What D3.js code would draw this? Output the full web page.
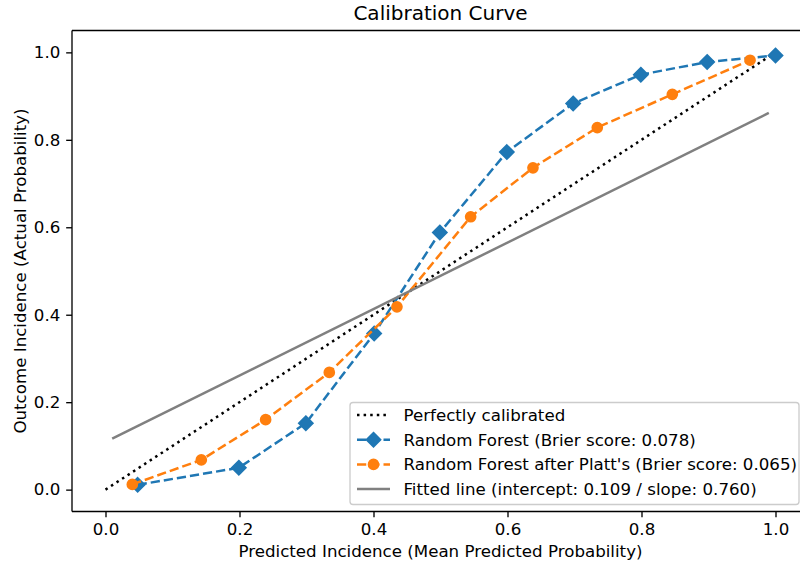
<!DOCTYPE html>
<html>
<head>
<meta charset="utf-8">
<script src="https://cdn.jsdelivr.net/npm/d3@7"></script>
<style>
  body { margin: 0; background: #fff; }
  svg { display: block; font-family: "DejaVu Sans", sans-serif; }
</style>
</head>
<body>
<svg id="chart" width="800" height="568"></svg>
<script>
// Calibration data: mean predicted probability vs. observed fraction of positives
const rfPredicted   = [0.048, 0.199, 0.299, 0.401, 0.499, 0.599, 0.698, 0.799, 0.898, 1.000];
const rfObserved    = [0.011, 0.050, 0.152, 0.357, 0.588, 0.772, 0.883, 0.949, 0.978, 0.993];
const plattPredicted = [0.040, 0.143, 0.239, 0.334, 0.435, 0.545, 0.638, 0.734, 0.846, 0.962];
const plattObserved  = [0.012, 0.068, 0.160, 0.268, 0.418, 0.624, 0.736, 0.828, 0.904, 0.982];
const perfectLine = [[0, 0], [1, 1]];
const fitIntercept = 0.109;
const fitSlope = 0.760;
const fitRange = [0.01, 0.99];
const xTicks = [0.0, 0.2, 0.4, 0.6, 0.8, 1.0];
const yTicks = [0.0, 0.2, 0.4, 0.6, 0.8, 1.0];
const legendLabels = [
  "Perfectly calibrated",
  "Random Forest (Brier score: 0.078)",
  "Random Forest after Platt's (Brier score: 0.065)",
  "Fitted line (intercept: 0.109 / slope: 0.760)"
];

(function () {
const svg = d3.select("#chart");
const plotLeft = 72, plotRight = 809, plotTop = 30.5, plotBottom = 511.5;

const x = d3.scaleLinear().domain([-0.05, 1.05]).range([plotLeft, plotRight]);
const y = d3.scaleLinear().domain([-0.05, 1.05]).range([plotBottom, plotTop]);

const blue = "#1f77b4", orange = "#ff7f0e", grey = "#808080";
const lw = 2.5;
const dotted = "2.5,4.1";
const dashed = "9.25,4";
const fontSize = "16.67px";
const tick = 5.83;

const line = d3.line().x(d => x(d[0])).y(d => y(d[1]));
const diamond = s => `M0,${-s}L${s},0L0,${s}L${-s},0Z`;
const diamondHalf = 7.07, circleR = 5, edge = 1.67;

const plot = svg.append("g");

// Reference diagonal
plot.append("path")
  .attr("d", line(perfectLine))
  .attr("fill", "none").attr("stroke", "#000").attr("stroke-width", lw)
  .attr("stroke-dasharray", dotted);

// Random Forest curve
const rfPts = rfPredicted.map((p, i) => [p, rfObserved[i]]);
plot.append("path")
  .attr("d", line(rfPts))
  .attr("fill", "none").attr("stroke", blue).attr("stroke-width", lw)
  .attr("stroke-dasharray", dashed);
plot.selectAll(".rf").data(rfPts).enter().append("path")
  .attr("d", diamond(diamondHalf))
  .attr("transform", d => `translate(${x(d[0])},${y(d[1])})`)
  .attr("fill", blue).attr("stroke", blue).attr("stroke-width", edge);

// Platt-scaled curve
const plattPts = plattPredicted.map((p, i) => [p, plattObserved[i]]);
plot.append("path")
  .attr("d", line(plattPts))
  .attr("fill", "none").attr("stroke", orange).attr("stroke-width", lw)
  .attr("stroke-dasharray", dashed);
plot.selectAll(".platt").data(plattPts).enter().append("circle")
  .attr("cx", d => x(d[0])).attr("cy", d => y(d[1])).attr("r", circleR)
  .attr("fill", orange).attr("stroke", orange).attr("stroke-width", edge);

// Fitted regression line
const fitPts = fitRange.map(v => [v, fitIntercept + fitSlope * v]);
plot.append("path")
  .attr("d", line(fitPts))
  .attr("fill", "none").attr("stroke", grey).attr("stroke-width", lw);

// Axes
const fmt = d3.format(".1f");
const xAxis = svg.append("g").attr("transform", `translate(0,${plotBottom})`)
  .call(d3.axisBottom(x).tickValues(xTicks).tickFormat(fmt).tickSize(tick).tickPadding(tick));
const yAxis = svg.append("g").attr("transform", `translate(${plotLeft},0)`)
  .call(d3.axisLeft(y).tickValues(yTicks).tickFormat(fmt).tickSize(tick).tickPadding(tick));
[xAxis, yAxis].forEach(a => {
  a.select(".domain").remove();
  a.selectAll("line").attr("stroke", "#000").attr("stroke-width", 1.33);
  a.selectAll("text").attr("font-size", fontSize).attr("fill", "#000")
    .attr("font-family", "DejaVu Sans, sans-serif");
});

// Frame
const frame = svg.append("g").attr("fill", "none").attr("stroke", "#000").attr("stroke-width", 1.33);
frame.append("line").attr("x1", plotLeft).attr("x2", plotRight).attr("y1", plotTop).attr("y2", plotTop);
frame.append("line").attr("x1", plotLeft).attr("x2", plotRight).attr("y1", plotBottom).attr("y2", plotBottom);
frame.append("line").attr("x1", plotLeft).attr("x2", plotLeft).attr("y1", plotTop).attr("y2", plotBottom);
frame.append("line").attr("x1", plotRight).attr("x2", plotRight).attr("y1", plotTop).attr("y2", plotBottom);

// Title and axis labels
svg.append("text").attr("x", (plotLeft + plotRight) / 2).attr("y", 20)
  .attr("text-anchor", "middle").attr("font-size", "20px").text("Calibration Curve");
svg.append("text").attr("x", (plotLeft + plotRight) / 2).attr("y", 557)
  .attr("text-anchor", "middle").attr("font-size", fontSize)
  .text("Predicted Incidence (Mean Predicted Probability)");
svg.append("text")
  .attr("transform", `translate(25.5,${(plotTop + plotBottom) / 2}) rotate(-90)`)
  .attr("text-anchor", "middle").attr("font-size", fontSize)
  .text("Outcome Incidence (Actual Probability)");

// Legend
const legend = svg.append("g");
legend.append("rect")
  .attr("x", 350).attr("y", 402.5).attr("width", 449).attr("height", 102)
  .attr("rx", 3).attr("ry", 3)
  .attr("fill", "#fff").attr("fill-opacity", 0.8)
  .attr("stroke", "#cccccc").attr("stroke-width", 1.33);
const rowY = [415, 439.7, 464.4, 489];
const sx0 = 357, sx1 = 390, smid = (sx0 + sx1) / 2;
const styles = [
  { stroke: "#000", dash: dotted, marker: null },
  { stroke: blue, dash: dashed, marker: "diamond" },
  { stroke: orange, dash: dashed, marker: "circle" },
  { stroke: grey, dash: null, marker: null }
];
legendLabels.forEach((label, i) => {
  const st = styles[i];
  const yy = rowY[i];
  const seg = legend.append("line")
    .attr("x1", sx0).attr("x2", sx1).attr("y1", yy).attr("y2", yy)
    .attr("stroke", st.stroke).attr("stroke-width", lw);
  if (st.dash) seg.attr("stroke-dasharray", st.dash);
  if (st.marker === "diamond") {
    legend.append("path").attr("d", diamond(diamondHalf))
      .attr("transform", `translate(${smid},${yy})`)
      .attr("fill", blue).attr("stroke", blue).attr("stroke-width", edge);
  } else if (st.marker === "circle") {
    legend.append("circle").attr("cx", smid).attr("cy", yy).attr("r", circleR)
      .attr("fill", orange).attr("stroke", orange).attr("stroke-width", edge);
  }
  legend.append("text").attr("x", 403.5).attr("y", yy).attr("dy", "0.36em")
    .attr("font-size", fontSize).text(label);
});
})();
</script>
</body>
</html>
